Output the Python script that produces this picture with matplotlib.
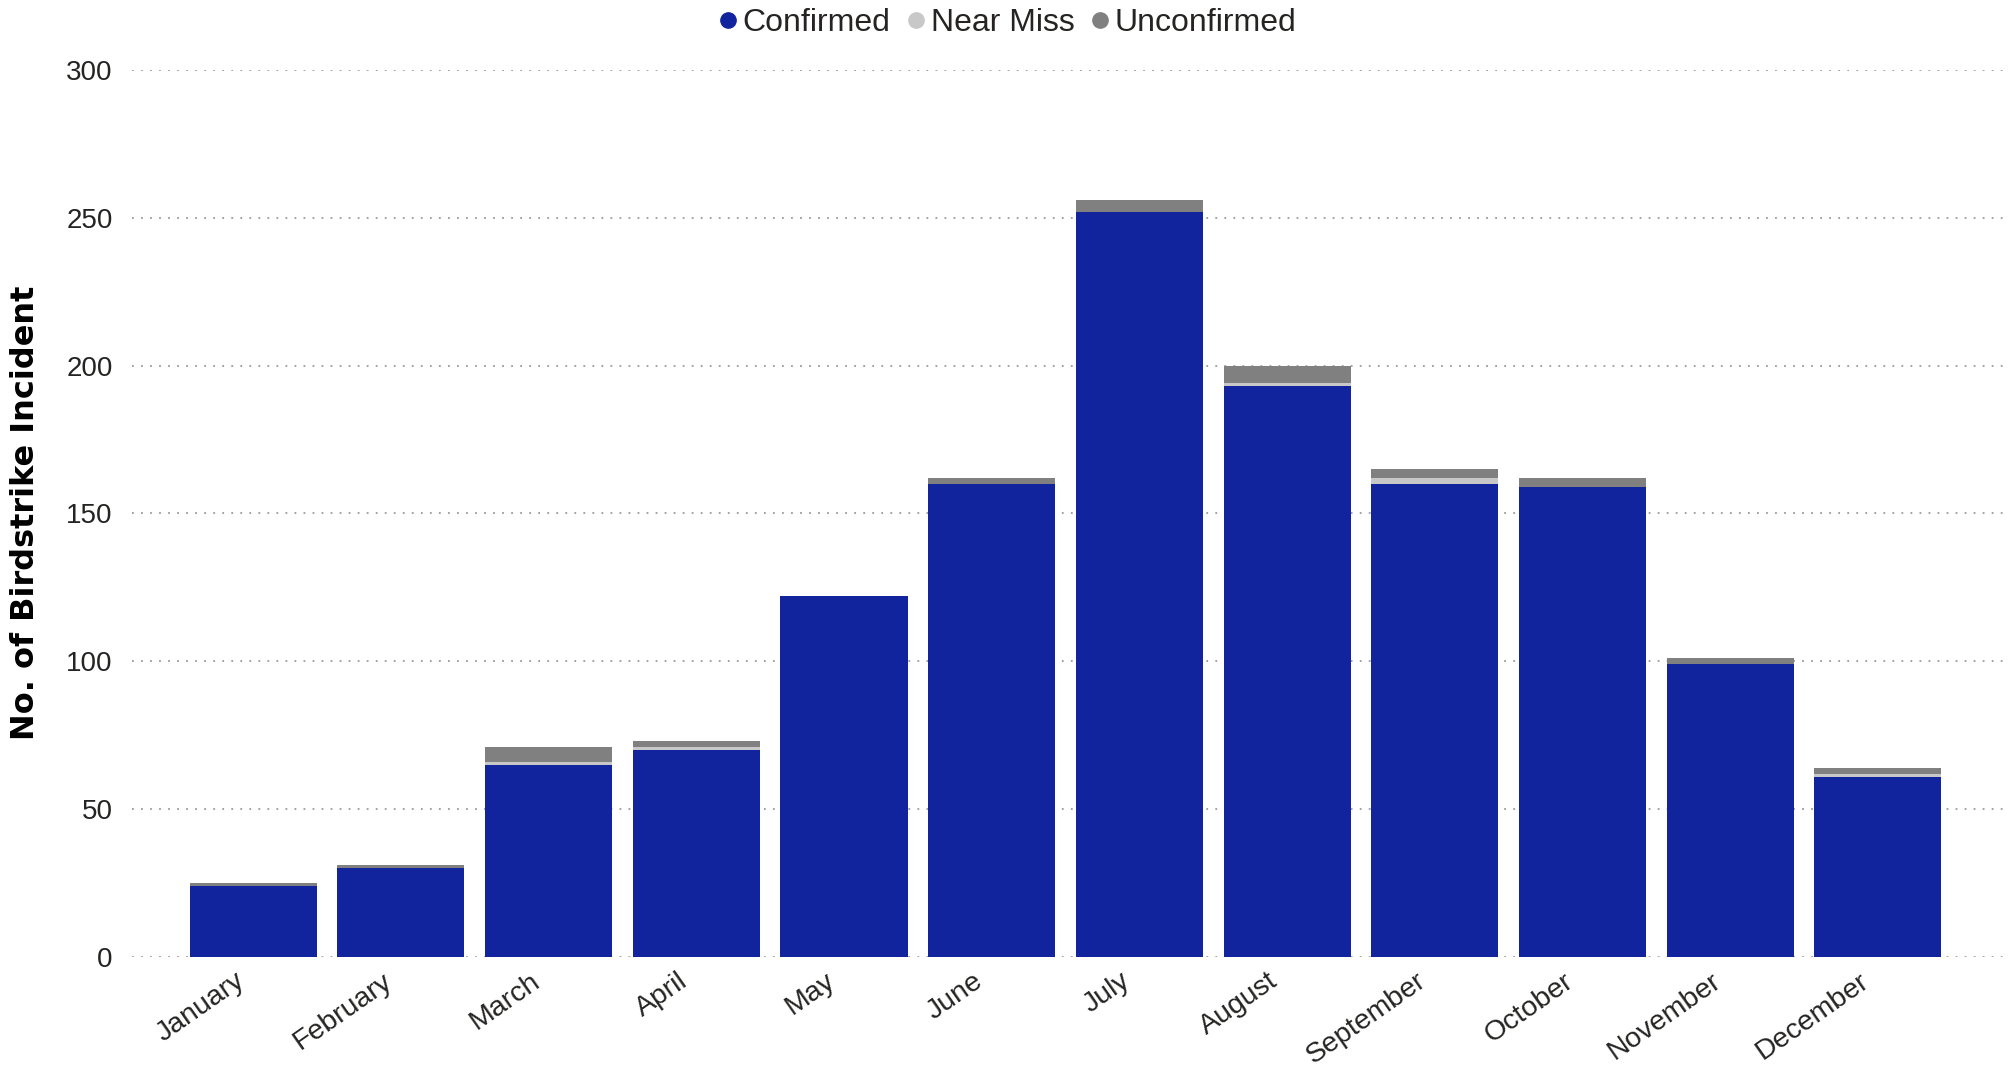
import matplotlib
matplotlib.use("Agg")
import matplotlib.pyplot as plt
from matplotlib.lines import Line2D
from matplotlib.transforms import ScaledTranslation, blended_transform_factory
import numpy as np

months = ["January", "February", "March", "April", "May", "June", "July",
          "August", "September", "October", "November", "December"]
confirmed = [24, 30, 65, 70, 122, 160, 252, 193, 160, 159, 99, 61]
near_miss = [0, 0, 1, 1, 0, 0, 0, 1, 2, 0, 0, 1]
unconfirmed = [1, 1, 5, 2, 0, 2, 4, 6, 3, 3, 2, 2]
series_names = ["Confirmed", "Near Miss", "Unconfirmed"]
colors = ["#12239E", "#C8C8C8", "#808080"]
yticks = [0, 50, 100, 150, 200, 250, 300]

plt.rcParams['font.family'] = ['Liberation Sans', 'DejaVu Sans']

fig = plt.figure(figsize=(20.10, 10.67), dpi=100)
ax = fig.add_axes([0.0657, 0.1031, 0.9318, 0.8313])

x = np.arange(len(months))
c = np.array(confirmed)
n = np.array(near_miss)
u = np.array(unconfirmed)
w = 0.86
ax.bar(x, c, w, color=colors[0], zorder=3, linewidth=0)
ax.bar(x, n, w, bottom=c, color=colors[1], zorder=3, linewidth=0)
ax.bar(x, u, w, bottom=c + n, color=colors[2], zorder=3, linewidth=0)

ax.set_xlim(-0.82, 11.86)
ax.set_ylim(0, 300)
ax.set_yticks(yticks)
ax.set_yticklabels([str(t) for t in yticks], fontsize=20, color="#252423")
ax.yaxis.grid(True, linestyle=(0, (1, 4)), color="#9a9a9a", linewidth=1.3, zorder=0)
ax.set_xticks(x)
ax.set_xticklabels([])
trans = blended_transform_factory(ax.transData, ax.transAxes) + \
    ScaledTranslation(-0.19, -0.11, fig.dpi_scale_trans)
for xi, m in zip(x, months):
    ax.text(xi, 0, m, transform=trans, rotation=35, ha="right", va="top",
            rotation_mode="anchor", fontsize=20.5, color="#252423")
ax.tick_params(axis="both", length=0)
ax.tick_params(axis="y", pad=14)
for s in ax.spines.values():
    s.set_visible(False)

fig.text(0.0125, 0.519, "No. of Birdstrike Incident", rotation=90, va="center",
         ha="center", fontsize=23, fontweight="bold", color="black",
         family=["DejaVu Sans"])

handles = [Line2D([], [], marker="o", linestyle="", markersize=11,
                  markerfacecolor=col, markeredgecolor=col) for col in colors]
fig.legend(handles, series_names, loc="center", bbox_to_anchor=(0.5, 0.978),
           ncol=3, frameon=False, fontsize=23, handletextpad=0.0,
           columnspacing=0.35, handlelength=0.9, labelcolor="#252423")

fig.savefig("out.png", dpi=100, facecolor="white")
